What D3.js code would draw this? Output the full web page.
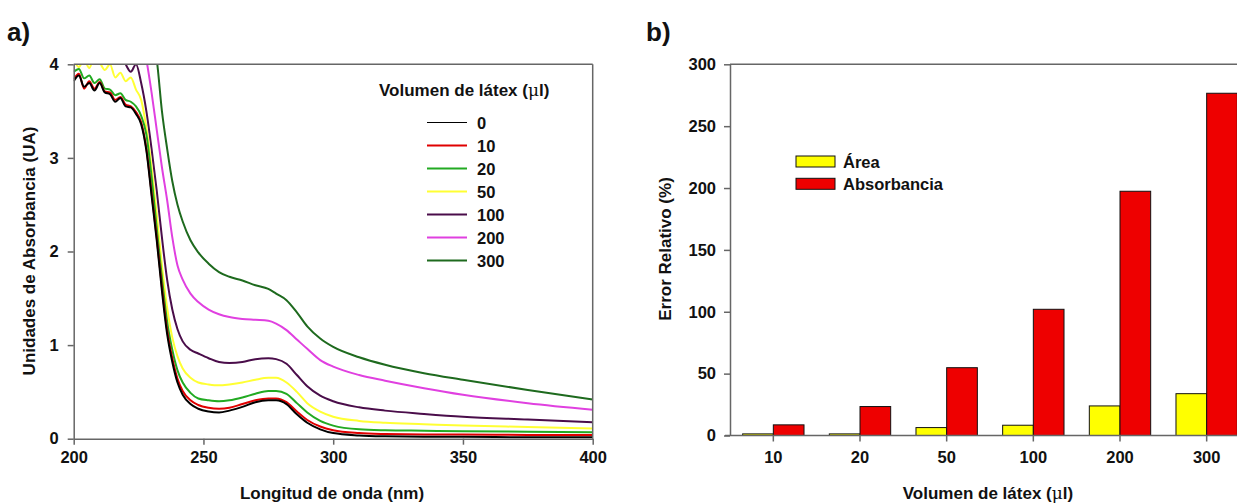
<!DOCTYPE html>
<html>
<head>
<meta charset="utf-8">
<script src="https://cdn.jsdelivr.net/npm/d3@7"></script>
<style>
  html, body { margin: 0; padding: 0; background: #fff; }
  svg { display: block; }
  text { font-family: "Liberation Sans", Arial, sans-serif; font-weight: bold; fill: #111; }
</style>
</head>
<body>
<svg id="chart" width="1237" height="504"></svg>
<script>
// ---------------- Panel a data: UV spectra ----------------
const wavelengths = [200,202,204,206,208,210,212,214,216,218,220,222,224,226,228,230,232,234,236,238,240,242,245,248,252,256,260,265,270,275,278,282,286,290,295,300,310,320,335,350,375,400];
const abs0   = [3.82,3.88,3.76,3.80,3.72,3.80,3.70,3.68,3.60,3.64,3.55,3.54,3.47,3.36,3.08,2.60,2.12,1.58,1.12,0.82,0.60,0.47,0.37,0.32,0.29,0.28,0.30,0.34,0.39,0.41,0.41,0.37,0.26,0.17,0.10,0.06,0.035,0.025,0.02,0.02,0.015,0.015];
const abs10  = [3.84,3.90,3.74,3.82,3.74,3.81,3.71,3.70,3.62,3.65,3.57,3.55,3.49,3.38,3.10,2.63,2.15,1.62,1.16,0.86,0.64,0.51,0.41,0.36,0.33,0.32,0.33,0.37,0.41,0.43,0.43,0.39,0.29,0.20,0.13,0.09,0.06,0.05,0.045,0.045,0.04,0.04];
const abs20  = [3.92,3.95,3.85,3.88,3.80,3.84,3.74,3.73,3.67,3.69,3.62,3.60,3.55,3.45,3.25,2.80,2.25,1.72,1.25,0.95,0.73,0.60,0.49,0.43,0.41,0.40,0.41,0.44,0.48,0.51,0.51,0.48,0.38,0.28,0.19,0.14,0.10,0.09,0.085,0.08,0.075,0.07];
const abs50  = [4.05,3.97,4.05,3.96,4.08,4.02,3.94,4.00,3.86,3.91,3.82,3.86,3.73,3.62,3.32,2.90,2.40,1.85,1.40,1.08,0.88,0.75,0.65,0.60,0.58,0.57,0.58,0.60,0.63,0.65,0.65,0.60,0.50,0.38,0.29,0.235,0.19,0.17,0.155,0.14,0.125,0.11];
const abs100 = [4.30,4.30,4.30,4.30,4.30,4.30,4.30,4.30,4.20,4.10,4.00,3.92,4.00,3.80,3.50,3.10,2.65,2.15,1.70,1.38,1.17,1.04,0.95,0.91,0.86,0.82,0.81,0.82,0.85,0.86,0.85,0.80,0.68,0.56,0.46,0.40,0.335,0.30,0.265,0.235,0.205,0.175];
const abs200 = [4.30,4.30,4.30,4.30,4.30,4.30,4.30,4.30,4.30,4.30,4.30,4.30,4.30,4.30,4.05,3.70,3.30,2.90,2.55,2.15,1.85,1.70,1.55,1.46,1.38,1.33,1.30,1.28,1.27,1.26,1.23,1.16,1.06,0.96,0.84,0.77,0.68,0.62,0.54,0.47,0.38,0.31];
const abs300 = [4.30,4.30,4.30,4.30,4.30,4.30,4.30,4.30,4.30,4.30,4.30,4.30,4.30,4.30,4.30,4.30,4.05,3.50,3.10,2.75,2.50,2.32,2.12,1.99,1.87,1.78,1.73,1.69,1.64,1.60,1.55,1.48,1.35,1.20,1.07,0.98,0.87,0.79,0.70,0.63,0.52,0.42];
const seriesNames = ["0","10","20","50","100","200","300"];
const seriesColors = ["#000000","#e00000","#22aa22","#ffff33","#4a0d4a","#e040e0","#1e6a1e"];
const xTicksA = [200,250,300,350,400];
const yTicksA = [0,1,2,3,4];

// ---------------- Panel b data: relative error ----------------
const volumes = ["10","20","50","100","200","300"];
const errArea = [1.3,1.3,6.4,8.3,23.9,33.8];
const errAbs  = [8.6,23.4,54.8,102,197.4,276.6];
const yTicksB = [0,50,100,150,200,250,300];
const barNames = ["Área","Absorbancia"];
const barColors = ["#ffff00","#ee0000"];

const svg = d3.select("#chart");
const axisColor = "#666";
const tickFont = "16.5px";
const titleFont = "17px";

// ============ PANEL A ============
const ax = {left: 73.7, right: 592.7, top: 64.3, bottom: 438.7};
const xA = d3.scaleLinear().domain([200,400]).range([ax.left, ax.right]);
const yA = d3.scaleLinear().domain([0,4]).range([ax.bottom, ax.top]);

svg.append("defs").append("clipPath").attr("id","clipA")
  .append("rect").attr("x", ax.left).attr("y", ax.top)
  .attr("width", ax.right - ax.left).attr("height", ax.bottom - ax.top);

const seriesA = [abs0, abs10, abs20, abs50, abs100, abs200, abs300];
const line = d3.line().x((d,i)=>xA(wavelengths[i])).y(d=>yA(d)).curve(d3.curveMonotoneX);
const gLines = svg.append("g").attr("clip-path","url(#clipA)");
for (let k = seriesA.length - 1; k >= 0; k--) {
  gLines.append("path").datum(seriesA[k])
    .attr("d", line).attr("fill","none")
    .attr("stroke", seriesColors[k]).attr("stroke-width", 2)
    .attr("stroke-linejoin","round");
}

svg.append("line").attr("x1", ax.left).attr("x2", ax.right).attr("y1", ax.top).attr("y2", ax.top)
  .attr("stroke", axisColor).attr("stroke-width", 1.5);
svg.append("line").attr("x1", ax.right).attr("x2", ax.right).attr("y1", ax.top).attr("y2", ax.bottom)
  .attr("stroke", axisColor).attr("stroke-width", 1.5);

const gxA = svg.append("g").attr("transform", `translate(0,${ax.bottom})`)
  .call(d3.axisBottom(xA).tickValues(xTicksA).tickFormat(d3.format("d")).tickSize(6).tickPadding(7).tickSizeOuter(0));
const gyA = svg.append("g").attr("transform", `translate(${ax.left},0)`)
  .call(d3.axisLeft(yA).tickValues(yTicksA).tickFormat(d3.format("d")).tickSize(6).tickPadding(9).tickSizeOuter(0));
[gxA, gyA].forEach(g => {
  g.selectAll("path,line").attr("stroke", axisColor).attr("stroke-width", 1.5);
  g.selectAll("text").style("font-size", tickFont).attr("fill","#111");
});

svg.append("text").attr("x", 332).attr("y", 499).attr("text-anchor","middle")
  .style("font-size", titleFont).text("Longitud de onda (nm)");
svg.append("text").attr("transform","translate(35,251) rotate(-90)").attr("text-anchor","middle")
  .style("font-size", titleFont).text("Unidades de Absorbancia (UA)");
svg.append("text").attr("x", 7).attr("y", 41).style("font-size","26px").text("a)");

// legend A
const tA = svg.append("text").attr("x", 379).attr("y", 96).style("font-size", titleFont)
  .text("Volumen de látex (");
tA.append("tspan").style("font-family","'DejaVu Serif', serif").style("font-weight","normal").text("μ");
tA.append("tspan").text("l)");
const legA = svg.append("g");
seriesNames.forEach((n,i) => {
  const y = 122.5 + i*23;
  legA.append("line").attr("x1", 427).attr("x2", 467).attr("y1", y).attr("y2", y)
    .attr("stroke", seriesColors[i]).attr("stroke-width", i === 0 ? 1.2 : 2);
  legA.append("text").attr("x", 477).attr("y", y + 6).style("font-size", tickFont).text(n);
});

// ============ PANEL B ============
const bx = {left: 730, right: 1250, top: 64.3, bottom: 435.5};
const xB = d3.scaleBand().domain(volumes).range([bx.left, bx.right]).padding(0);
const yB = d3.scaleLinear().domain([0,300]).range([bx.bottom, bx.top]);
const bw = xB.bandwidth();
const barW = bw * 0.354;
const xSub = d3.scaleBand().domain(["area","abs"]).range([bw/2 - barW, bw/2 + barW]).padding(0);

const gBars = svg.append("g");
volumes.forEach((v,i) => {
  gBars.append("rect").attr("x", xB(v) + xSub("area")).attr("width", xSub.bandwidth())
    .attr("y", yB(errArea[i])).attr("height", yB(0) - yB(errArea[i]))
    .attr("fill", barColors[0]).attr("stroke","#111").attr("stroke-width",1);
  gBars.append("rect").attr("x", xB(v) + xSub("abs")).attr("width", xSub.bandwidth())
    .attr("y", yB(errAbs[i])).attr("height", yB(0) - yB(errAbs[i]))
    .attr("fill", barColors[1]).attr("stroke","#111").attr("stroke-width",1);
});

svg.append("line").attr("x1", bx.left).attr("x2", bx.right).attr("y1", bx.top).attr("y2", bx.top)
  .attr("stroke", axisColor).attr("stroke-width", 1.5);

const gxB = svg.append("g").attr("transform", `translate(0,${bx.bottom})`)
  .call(d3.axisBottom(xB).tickSize(6).tickPadding(10).tickSizeOuter(0));
const gyB = svg.append("g").attr("transform", `translate(${bx.left},0)`)
  .call(d3.axisLeft(yB).tickValues(yTicksB).tickSize(6).tickPadding(8).tickSizeOuter(0));
gxB.select("path.domain").attr("d", `M${bx.left - 5},0H${bx.right}`);
[gxB, gyB].forEach(g => {
  g.selectAll("path,line").attr("stroke", axisColor).attr("stroke-width", 1.5);
  g.selectAll("text").style("font-size", tickFont).attr("fill","#111");
});

const tB = svg.append("text").attr("x", 988).attr("y", 499).attr("text-anchor","middle")
  .style("font-size", titleFont).text("Volumen de látex (");
tB.append("tspan").style("font-family","'DejaVu Serif', serif").style("font-weight","normal").text("μ");
tB.append("tspan").text("l)");
svg.append("text").attr("transform","translate(671,249) rotate(-90)").attr("text-anchor","middle")
  .style("font-size", titleFont).text("Error Relativo (%)");
svg.append("text").attr("x", 646).attr("y", 41).style("font-size","26px").text("b)");

// legend B
barNames.forEach((n,i) => {
  const y = 156 + i*22.3;
  svg.append("rect").attr("x", 796).attr("y", y).attr("width", 39).attr("height", 11)
    .attr("fill", barColors[i]).attr("stroke","#111").attr("stroke-width",1);
  svg.append("text").attr("x", 843).attr("y", y + 11.5).style("font-size","16.5px").text(n);
});
</script>
</body>
</html>
